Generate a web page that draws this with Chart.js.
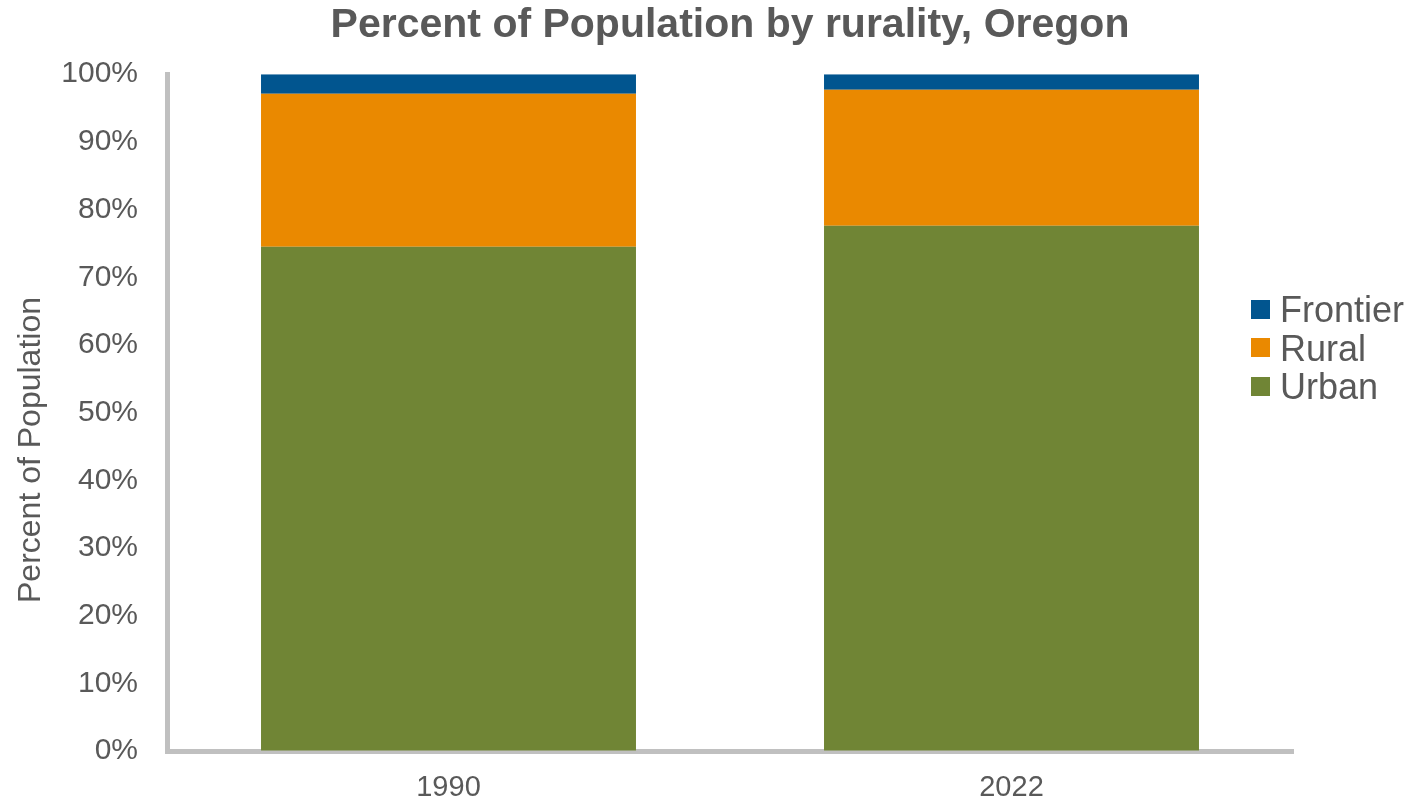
<!DOCTYPE html>
<html>
<head>
<meta charset="utf-8">
<script src="https://cdn.jsdelivr.net/npm/chart.js@4.4.1/dist/chart.umd.min.js"></script>
<style>
body{margin:0;background:#fff;}
#wrap{position:relative;width:1414px;height:804px;}
#legend{position:absolute;left:1251px;top:291px;font-family:"Liberation Sans",Arial,sans-serif;font-size:36px;color:#595959;}
.item{height:38.5px;line-height:38.5px;white-space:nowrap;}
.box{display:inline-block;width:19px;height:19px;margin-right:10px;vertical-align:middle;position:relative;top:-3px;}
</style>
</head>
<body>
<div id="wrap">
<canvas id="ruralChart" width="1414" height="804"></canvas>
<div id="legend"></div>
</div>
<script>
let years=["1990","2022"];
let urban=[74.5,77.6];
let rural=[22.6,20.1];
let frontier=[2.9,2.3];
let yTicks=[0,10,20,30,40,50,60,70,80,90,100];
let yTitle="Percent of Population";

let textColor="#595959";
let font='"Liberation Sans", Arial, sans-serif';

// y axis title sits a bit below the middle of the axis in the original
let yTitlePlugin={
    id:"yTitle",
    afterDraw:function(chart){
        let c=chart.ctx;
        c.save();
        c.translate(31,450);
        c.rotate(-Math.PI/2);
        c.fillStyle=textColor;
        c.font='32px '+font;
        c.textAlign="center";
        c.textBaseline="middle";
        c.fillText(yTitle,0,0);
        c.restore();
    }
};

let ctx=document.getElementById("ruralChart").getContext("2d");
let ruralChart=new Chart(ctx,{
    type:"bar",
    data:{
        labels:years,
        datasets:[
            {label:"Urban",data:urban,backgroundColor:"#708535"},
            {label:"Rural",data:rural,backgroundColor:"#EA8900"},
            {label:"Frontier",data:frontier,backgroundColor:"#01558F"}
        ]
    },
    options:{
        responsive:false,
        animation:false,
        layout:{padding:{left:10,right:121,top:0,bottom:0}},
        datasets:{bar:{categoryPercentage:1,barPercentage:0.666}},
        plugins:{
            legend:{display:false},
            tooltip:{enabled:false},
            title:{
                display:true,
                text:"Percent of Population by rurality, Oregon",
                color:textColor,
                fullSize:false,
                font:{family:font,size:41,weight:"bold"},
                padding:{top:1,bottom:24}
            }
        },
        scales:{
            x:{
                stacked:true,
                grid:{drawOnChartArea:false,drawTicks:false},
                border:{color:"#c0c0c0",width:5},
                ticks:{color:textColor,font:{family:font,size:29},padding:20},
                afterFit:function(scale){scale.height=53;}
            },
            y:{
                stacked:true,
                min:0,
                max:100,
                afterBuildTicks:function(scale){
                    scale.ticks=yTicks.map(function(v){return {value:v};});
                },
                grid:{drawOnChartArea:false,drawTicks:false},
                border:{color:"#c0c0c0",width:5},
                ticks:{
                    color:textColor,
                    font:{family:font,size:30},
                    padding:29,
                    callback:function(v){return v+"%";}
                },
                afterFit:function(scale){scale.width=157;}
            }
        }
    },
    plugins:[yTitlePlugin]
});

// legend, top item is the top of the stack
let legendHtml="";
let sets=ruralChart.data.datasets;
for(let i=sets.length-1;i>=0;i--){
    legendHtml+='<div class="item"><span class="box" style="background:'+sets[i].backgroundColor+'"></span>'+sets[i].label+'</div>';
}
document.getElementById("legend").innerHTML=legendHtml;
</script>
</body>
</html>
